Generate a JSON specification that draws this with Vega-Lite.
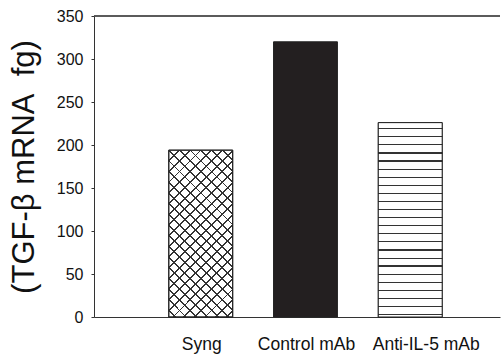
{
  "$schema": "https://vega.github.io/schema/vega-lite/v6.json",
  "width": 406,
  "height": 301,
  "autosize": "none",
  "padding": {"left": 94, "top": 16, "right": 2, "bottom": 38},
  "background": "white",
  "config": {"view": {"stroke": null}, "font": "Liberation Sans"},
  "data": {"values": [
    {"group": "Syng", "value": 194},
    {"group": "Control mAb", "value": 320},
    {"group": "Anti-IL-5 mAb", "value": 226}
  ]},
  "encoding": {
    "x": {"field": "group", "type": "nominal", "sort": null,
      "scale": {"paddingInner": 0.39, "paddingOuter": 0.633, "align": 0.564},
      "axis": {"title": null, "ticks": false, "labelPadding": 18, "labelFontSize": 17.5, "labelColor": "#111", "labelAngle": 0, "domainColor": "#333", "domainWidth": 1,
        "labelOffset": {"condition": {"test": "datum.value === 'Anti-IL-5 mAb'", "value": 16}, "value": 1}}},
    "y": {"field": "value", "type": "quantitative",
      "scale": {"domain": [0, 350], "nice": false},
      "axis": {"title": "(TGF-β mRNA\u00a0\u00a0fg)", "values": [0, 50, 100, 150, 200, 250, 300, 350], "grid": false,
        "tickSize": 3, "tickColor": "#333", "domainColor": "#333", "labelFontSize": 16, "labelColor": "#111", "labelPadding": 8,
        "titleFontSize": 31, "titleFontWeight": "normal", "titleColor": "#111", "titlePadding": 16}}
  },
  "layer": [
    {"mark": {"type": "bar", "stroke": "#222", "strokeWidth": 1},
     "encoding": {"fill": {"field": "group", "type": "nominal", "legend": null,
       "scale": {"domain": ["Syng", "Control mAb", "Anti-IL-5 mAb"], "range": ["#ffffff", "#231f20", "#ffffff"]}}}},
    {"transform": [{"filter": "datum.group === 'Syng'"}],
     "mark": {"type": "bar", "strokeWidth": 0, "fill": {"gradient": "linear", "x1": 0, "y1": 0, "x2": 0.462, "y2": 1.206, "stops": [
       {"offset": 0, "color": "rgba(255,255,255,0)"},
       {"offset": 0.042, "color": "rgba(255,255,255,0)"}, {"offset": 0.042, "color": "#333333"}, {"offset": 0.050, "color": "#333333"}, {"offset": 0.050, "color": "rgba(255,255,255,0)"},
       {"offset": 0.089, "color": "rgba(255,255,255,0)"}, {"offset": 0.089, "color": "#333333"}, {"offset": 0.097, "color": "#333333"}, {"offset": 0.097, "color": "rgba(255,255,255,0)"},
       {"offset": 0.135, "color": "rgba(255,255,255,0)"}, {"offset": 0.135, "color": "#333333"}, {"offset": 0.143, "color": "#333333"}, {"offset": 0.143, "color": "rgba(255,255,255,0)"},
       {"offset": 0.181, "color": "rgba(255,255,255,0)"}, {"offset": 0.181, "color": "#333333"}, {"offset": 0.189, "color": "#333333"}, {"offset": 0.189, "color": "rgba(255,255,255,0)"},
       {"offset": 0.228, "color": "rgba(255,255,255,0)"}, {"offset": 0.228, "color": "#333333"}, {"offset": 0.236, "color": "#333333"}, {"offset": 0.236, "color": "rgba(255,255,255,0)"},
       {"offset": 0.274, "color": "rgba(255,255,255,0)"}, {"offset": 0.274, "color": "#333333"}, {"offset": 0.282, "color": "#333333"}, {"offset": 0.282, "color": "rgba(255,255,255,0)"},
       {"offset": 0.320, "color": "rgba(255,255,255,0)"}, {"offset": 0.320, "color": "#333333"}, {"offset": 0.328, "color": "#333333"}, {"offset": 0.328, "color": "rgba(255,255,255,0)"},
       {"offset": 0.367, "color": "rgba(255,255,255,0)"}, {"offset": 0.367, "color": "#333333"}, {"offset": 0.375, "color": "#333333"}, {"offset": 0.375, "color": "rgba(255,255,255,0)"},
       {"offset": 0.413, "color": "rgba(255,255,255,0)"}, {"offset": 0.413, "color": "#333333"}, {"offset": 0.421, "color": "#333333"}, {"offset": 0.421, "color": "rgba(255,255,255,0)"},
       {"offset": 0.459, "color": "rgba(255,255,255,0)"}, {"offset": 0.459, "color": "#333333"}, {"offset": 0.467, "color": "#333333"}, {"offset": 0.467, "color": "rgba(255,255,255,0)"},
       {"offset": 0.506, "color": "rgba(255,255,255,0)"}, {"offset": 0.506, "color": "#333333"}, {"offset": 0.514, "color": "#333333"}, {"offset": 0.514, "color": "rgba(255,255,255,0)"},
       {"offset": 0.552, "color": "rgba(255,255,255,0)"}, {"offset": 0.552, "color": "#333333"}, {"offset": 0.560, "color": "#333333"}, {"offset": 0.560, "color": "rgba(255,255,255,0)"},
       {"offset": 0.598, "color": "rgba(255,255,255,0)"}, {"offset": 0.598, "color": "#333333"}, {"offset": 0.606, "color": "#333333"}, {"offset": 0.606, "color": "rgba(255,255,255,0)"},
       {"offset": 0.645, "color": "rgba(255,255,255,0)"}, {"offset": 0.645, "color": "#333333"}, {"offset": 0.653, "color": "#333333"}, {"offset": 0.653, "color": "rgba(255,255,255,0)"},
       {"offset": 0.691, "color": "rgba(255,255,255,0)"}, {"offset": 0.691, "color": "#333333"}, {"offset": 0.699, "color": "#333333"}, {"offset": 0.699, "color": "rgba(255,255,255,0)"},
       {"offset": 0.737, "color": "rgba(255,255,255,0)"}, {"offset": 0.737, "color": "#333333"}, {"offset": 0.745, "color": "#333333"}, {"offset": 0.745, "color": "rgba(255,255,255,0)"},
       {"offset": 0.783, "color": "rgba(255,255,255,0)"}, {"offset": 0.783, "color": "#333333"}, {"offset": 0.791, "color": "#333333"}, {"offset": 0.791, "color": "rgba(255,255,255,0)"},
       {"offset": 0.830, "color": "rgba(255,255,255,0)"}, {"offset": 0.830, "color": "#333333"}, {"offset": 0.838, "color": "#333333"}, {"offset": 0.838, "color": "rgba(255,255,255,0)"},
       {"offset": 0.876, "color": "rgba(255,255,255,0)"}, {"offset": 0.876, "color": "#333333"}, {"offset": 0.884, "color": "#333333"}, {"offset": 0.884, "color": "rgba(255,255,255,0)"},
       {"offset": 0.922, "color": "rgba(255,255,255,0)"}, {"offset": 0.922, "color": "#333333"}, {"offset": 0.930, "color": "#333333"}, {"offset": 0.930, "color": "rgba(255,255,255,0)"},
       {"offset": 0.969, "color": "rgba(255,255,255,0)"}, {"offset": 0.969, "color": "#333333"}, {"offset": 0.977, "color": "#333333"}, {"offset": 0.977, "color": "rgba(255,255,255,0)"},
       {"offset": 1, "color": "rgba(255,255,255,0)"}
     ]}}},
    {"transform": [{"filter": "datum.group === 'Syng'"}],
     "mark": {"type": "bar", "stroke": "#222", "strokeWidth": 1, "fill": {"gradient": "linear", "x1": 0, "y1": 1.025, "x2": 0.462, "y2": -0.181, "stops": [
       {"offset": 0, "color": "rgba(255,255,255,0)"},
       {"offset": 0.042, "color": "rgba(255,255,255,0)"}, {"offset": 0.042, "color": "#333333"}, {"offset": 0.050, "color": "#333333"}, {"offset": 0.050, "color": "rgba(255,255,255,0)"},
       {"offset": 0.089, "color": "rgba(255,255,255,0)"}, {"offset": 0.089, "color": "#333333"}, {"offset": 0.097, "color": "#333333"}, {"offset": 0.097, "color": "rgba(255,255,255,0)"},
       {"offset": 0.135, "color": "rgba(255,255,255,0)"}, {"offset": 0.135, "color": "#333333"}, {"offset": 0.143, "color": "#333333"}, {"offset": 0.143, "color": "rgba(255,255,255,0)"},
       {"offset": 0.181, "color": "rgba(255,255,255,0)"}, {"offset": 0.181, "color": "#333333"}, {"offset": 0.189, "color": "#333333"}, {"offset": 0.189, "color": "rgba(255,255,255,0)"},
       {"offset": 0.228, "color": "rgba(255,255,255,0)"}, {"offset": 0.228, "color": "#333333"}, {"offset": 0.236, "color": "#333333"}, {"offset": 0.236, "color": "rgba(255,255,255,0)"},
       {"offset": 0.274, "color": "rgba(255,255,255,0)"}, {"offset": 0.274, "color": "#333333"}, {"offset": 0.282, "color": "#333333"}, {"offset": 0.282, "color": "rgba(255,255,255,0)"},
       {"offset": 0.320, "color": "rgba(255,255,255,0)"}, {"offset": 0.320, "color": "#333333"}, {"offset": 0.328, "color": "#333333"}, {"offset": 0.328, "color": "rgba(255,255,255,0)"},
       {"offset": 0.367, "color": "rgba(255,255,255,0)"}, {"offset": 0.367, "color": "#333333"}, {"offset": 0.375, "color": "#333333"}, {"offset": 0.375, "color": "rgba(255,255,255,0)"},
       {"offset": 0.413, "color": "rgba(255,255,255,0)"}, {"offset": 0.413, "color": "#333333"}, {"offset": 0.421, "color": "#333333"}, {"offset": 0.421, "color": "rgba(255,255,255,0)"},
       {"offset": 0.459, "color": "rgba(255,255,255,0)"}, {"offset": 0.459, "color": "#333333"}, {"offset": 0.467, "color": "#333333"}, {"offset": 0.467, "color": "rgba(255,255,255,0)"},
       {"offset": 0.506, "color": "rgba(255,255,255,0)"}, {"offset": 0.506, "color": "#333333"}, {"offset": 0.514, "color": "#333333"}, {"offset": 0.514, "color": "rgba(255,255,255,0)"},
       {"offset": 0.552, "color": "rgba(255,255,255,0)"}, {"offset": 0.552, "color": "#333333"}, {"offset": 0.560, "color": "#333333"}, {"offset": 0.560, "color": "rgba(255,255,255,0)"},
       {"offset": 0.598, "color": "rgba(255,255,255,0)"}, {"offset": 0.598, "color": "#333333"}, {"offset": 0.606, "color": "#333333"}, {"offset": 0.606, "color": "rgba(255,255,255,0)"},
       {"offset": 0.645, "color": "rgba(255,255,255,0)"}, {"offset": 0.645, "color": "#333333"}, {"offset": 0.653, "color": "#333333"}, {"offset": 0.653, "color": "rgba(255,255,255,0)"},
       {"offset": 0.691, "color": "rgba(255,255,255,0)"}, {"offset": 0.691, "color": "#333333"}, {"offset": 0.699, "color": "#333333"}, {"offset": 0.699, "color": "rgba(255,255,255,0)"},
       {"offset": 0.737, "color": "rgba(255,255,255,0)"}, {"offset": 0.737, "color": "#333333"}, {"offset": 0.745, "color": "#333333"}, {"offset": 0.745, "color": "rgba(255,255,255,0)"},
       {"offset": 0.783, "color": "rgba(255,255,255,0)"}, {"offset": 0.783, "color": "#333333"}, {"offset": 0.791, "color": "#333333"}, {"offset": 0.791, "color": "rgba(255,255,255,0)"},
       {"offset": 0.830, "color": "rgba(255,255,255,0)"}, {"offset": 0.830, "color": "#333333"}, {"offset": 0.838, "color": "#333333"}, {"offset": 0.838, "color": "rgba(255,255,255,0)"},
       {"offset": 0.876, "color": "rgba(255,255,255,0)"}, {"offset": 0.876, "color": "#333333"}, {"offset": 0.884, "color": "#333333"}, {"offset": 0.884, "color": "rgba(255,255,255,0)"},
       {"offset": 0.922, "color": "rgba(255,255,255,0)"}, {"offset": 0.922, "color": "#333333"}, {"offset": 0.930, "color": "#333333"}, {"offset": 0.930, "color": "rgba(255,255,255,0)"},
       {"offset": 0.969, "color": "rgba(255,255,255,0)"}, {"offset": 0.969, "color": "#333333"}, {"offset": 0.977, "color": "#333333"}, {"offset": 0.977, "color": "rgba(255,255,255,0)"},
       {"offset": 1, "color": "rgba(255,255,255,0)"}
     ]}}},
    {"transform": [{"filter": "datum.group === 'Anti-IL-5 mAb'"}],
     "mark": {"type": "bar", "stroke": "#222", "strokeWidth": 1, "fill": {"gradient": "linear", "x1": 0, "y1": 0, "x2": 0, "y2": 1, "stops": [
       {"offset": 0, "color": "#ffffff"},
       {"offset": 0.028, "color": "#ffffff"}, {"offset": 0.028, "color": "#333333"}, {"offset": 0.034, "color": "#333333"}, {"offset": 0.034, "color": "#ffffff"},
       {"offset": 0.070, "color": "#ffffff"}, {"offset": 0.070, "color": "#333333"}, {"offset": 0.076, "color": "#333333"}, {"offset": 0.076, "color": "#ffffff"},
       {"offset": 0.111, "color": "#ffffff"}, {"offset": 0.111, "color": "#333333"}, {"offset": 0.117, "color": "#333333"}, {"offset": 0.117, "color": "#ffffff"},
       {"offset": 0.153, "color": "#ffffff"}, {"offset": 0.153, "color": "#333333"}, {"offset": 0.159, "color": "#333333"}, {"offset": 0.159, "color": "#ffffff"},
       {"offset": 0.194, "color": "#ffffff"}, {"offset": 0.194, "color": "#333333"}, {"offset": 0.200, "color": "#333333"}, {"offset": 0.200, "color": "#ffffff"},
       {"offset": 0.236, "color": "#ffffff"}, {"offset": 0.236, "color": "#333333"}, {"offset": 0.242, "color": "#333333"}, {"offset": 0.242, "color": "#ffffff"},
       {"offset": 0.278, "color": "#ffffff"}, {"offset": 0.278, "color": "#333333"}, {"offset": 0.284, "color": "#333333"}, {"offset": 0.284, "color": "#ffffff"},
       {"offset": 0.319, "color": "#ffffff"}, {"offset": 0.319, "color": "#333333"}, {"offset": 0.325, "color": "#333333"}, {"offset": 0.325, "color": "#ffffff"},
       {"offset": 0.361, "color": "#ffffff"}, {"offset": 0.361, "color": "#333333"}, {"offset": 0.367, "color": "#333333"}, {"offset": 0.367, "color": "#ffffff"},
       {"offset": 0.402, "color": "#ffffff"}, {"offset": 0.402, "color": "#333333"}, {"offset": 0.408, "color": "#333333"}, {"offset": 0.408, "color": "#ffffff"},
       {"offset": 0.444, "color": "#ffffff"}, {"offset": 0.444, "color": "#333333"}, {"offset": 0.450, "color": "#333333"}, {"offset": 0.450, "color": "#ffffff"},
       {"offset": 0.486, "color": "#ffffff"}, {"offset": 0.486, "color": "#333333"}, {"offset": 0.492, "color": "#333333"}, {"offset": 0.492, "color": "#ffffff"},
       {"offset": 0.527, "color": "#ffffff"}, {"offset": 0.527, "color": "#333333"}, {"offset": 0.533, "color": "#333333"}, {"offset": 0.533, "color": "#ffffff"},
       {"offset": 0.569, "color": "#ffffff"}, {"offset": 0.569, "color": "#333333"}, {"offset": 0.575, "color": "#333333"}, {"offset": 0.575, "color": "#ffffff"},
       {"offset": 0.610, "color": "#ffffff"}, {"offset": 0.610, "color": "#333333"}, {"offset": 0.616, "color": "#333333"}, {"offset": 0.616, "color": "#ffffff"},
       {"offset": 0.652, "color": "#ffffff"}, {"offset": 0.652, "color": "#333333"}, {"offset": 0.658, "color": "#333333"}, {"offset": 0.658, "color": "#ffffff"},
       {"offset": 0.694, "color": "#ffffff"}, {"offset": 0.694, "color": "#333333"}, {"offset": 0.700, "color": "#333333"}, {"offset": 0.700, "color": "#ffffff"},
       {"offset": 0.735, "color": "#ffffff"}, {"offset": 0.735, "color": "#333333"}, {"offset": 0.741, "color": "#333333"}, {"offset": 0.741, "color": "#ffffff"},
       {"offset": 0.777, "color": "#ffffff"}, {"offset": 0.777, "color": "#333333"}, {"offset": 0.783, "color": "#333333"}, {"offset": 0.783, "color": "#ffffff"},
       {"offset": 0.818, "color": "#ffffff"}, {"offset": 0.818, "color": "#333333"}, {"offset": 0.824, "color": "#333333"}, {"offset": 0.824, "color": "#ffffff"},
       {"offset": 0.860, "color": "#ffffff"}, {"offset": 0.860, "color": "#333333"}, {"offset": 0.866, "color": "#333333"}, {"offset": 0.866, "color": "#ffffff"},
       {"offset": 0.902, "color": "#ffffff"}, {"offset": 0.902, "color": "#333333"}, {"offset": 0.908, "color": "#333333"}, {"offset": 0.908, "color": "#ffffff"},
       {"offset": 0.943, "color": "#ffffff"}, {"offset": 0.943, "color": "#333333"}, {"offset": 0.949, "color": "#333333"}, {"offset": 0.949, "color": "#ffffff"},
       {"offset": 0.985, "color": "#ffffff"}, {"offset": 0.985, "color": "#333333"}, {"offset": 0.991, "color": "#333333"}, {"offset": 0.991, "color": "#ffffff"},
       {"offset": 1, "color": "#ffffff"}
     ]}}},
    {"mark": {"type": "rule", "color": "#444", "strokeWidth": 1},
     "encoding": {"y": {"datum": 350}, "x": null}}
  ]
}
